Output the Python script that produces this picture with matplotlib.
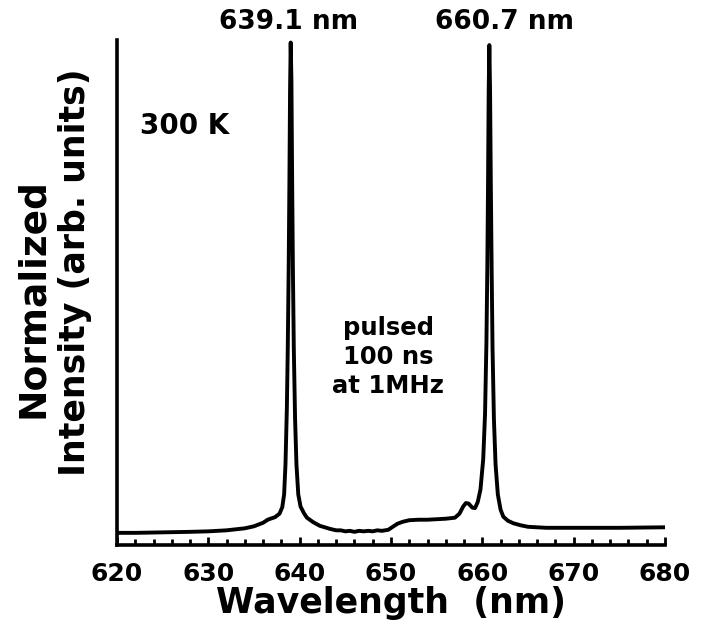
import matplotlib
matplotlib.use("Agg")
import matplotlib.pyplot as plt
from matplotlib.ticker import MultipleLocator

# spectrum (wavelength in nm, normalized intensity)
wavelength = [620.0, 622.0, 625.0, 628.0, 630.0, 632.0, 634.0, 635.0, 636.0, 636.5,
              636.8, 637.3, 637.8, 638.1, 638.3, 638.45, 638.6, 638.7, 638.8, 638.88,
              638.95, 639.02, 639.1, 639.18, 639.26, 639.36, 639.5, 639.65, 639.85, 640.1,
              640.5, 640.8, 641.5, 642.2, 643.3, 644.0, 644.5, 645.0, 645.5, 646.0,
              646.5, 647.0, 647.5, 648.0, 648.5, 649.0, 649.7, 650.2, 650.7, 651.3,
              652.0, 653.0, 654.0, 655.0, 656.0, 657.0, 657.5, 657.9, 658.2, 658.5,
              658.9, 659.2, 659.5, 659.8, 660.1, 660.3, 660.45, 660.55, 660.63, 660.7,
              660.77, 660.85, 660.93, 661.02, 661.12, 661.27, 661.45, 661.7, 662.0, 662.3,
              662.8, 663.4, 664.2, 665.0, 667.0, 670.0, 675.0, 680.0]
intensity = [0.024, 0.024, 0.025, 0.026, 0.027, 0.029, 0.033, 0.037, 0.044, 0.050,
             0.052, 0.055, 0.062, 0.075, 0.100, 0.160, 0.270, 0.390, 0.550, 0.720,
             0.900, 0.995, 0.920, 0.720, 0.550, 0.390, 0.250, 0.160, 0.100, 0.076,
             0.062, 0.054, 0.045, 0.038, 0.032, 0.029, 0.029, 0.027, 0.028, 0.026,
             0.028, 0.027, 0.028, 0.027, 0.029, 0.028, 0.030, 0.036, 0.042, 0.046,
             0.049, 0.050, 0.050, 0.051, 0.052, 0.054, 0.062, 0.076, 0.083, 0.082,
             0.074, 0.073, 0.085, 0.110, 0.170, 0.260, 0.400, 0.550, 0.720, 0.900,
             0.990, 0.900, 0.720, 0.550, 0.390, 0.250, 0.160, 0.100, 0.070, 0.056,
             0.048, 0.043, 0.039, 0.036, 0.034, 0.034, 0.034, 0.035]

peak_labels = ["639.1 nm", "660.7 nm"]
peak_label_x = [638.8, 662.4]
xticks = [620, 630, 640, 650, 660, 670, 680]

plt.rcParams['font.family'] = ['DejaVu Sans']
plt.rcParams['font.weight'] = 'bold'

fig = plt.figure(figsize=(7.03, 6.32), dpi=100)
ax = fig.add_axes([0.1664, 0.1377, 0.7795, 0.799])

ax.plot(wavelength, intensity, color='black', lw=2.8, solid_joinstyle='round')

ax.set_xlim(620, 680)
ax.set_ylim(0, 1.0)
ax.set_xticks(xticks)
ax.xaxis.set_minor_locator(MultipleLocator(2))
ax.set_yticks([])
for s in ['top', 'right']:
    ax.spines[s].set_visible(False)
for s in ['left', 'bottom']:
    ax.spines[s].set_linewidth(2.6)
ax.tick_params(axis='x', which='major', direction='in', length=6, width=2,
               labelsize=18, pad=12)
ax.tick_params(axis='x', which='minor', direction='in', length=4, width=2)
ax.set_xlabel("Wavelength  (nm)", fontsize=25, fontweight='bold', labelpad=0)

for lab, xp in zip(peak_labels, peak_label_x):
    ax.text(xp, 1.036, lab, fontsize=19, fontweight='bold', ha='center', va='center',
            clip_on=False)

ax.text(627.45, 0.829, "300 K", fontsize=20, fontweight='bold', ha='center', va='center')
ax.text(649.7, 0.372, "pulsed\n100 ns\nat 1MHz", fontsize=17.5, fontweight='bold',
        ha='center', va='center', linespacing=1.25)

fig.text(33 / 703, 1 - 298 / 632, "Normalized", rotation=90, fontsize=27,
         fontweight='bold', ha='center', va='center')
fig.text(75 / 703, 1 - 272 / 632, "Intensity (arb. units)", rotation=90, fontsize=25,
         fontweight='bold', ha='center', va='center')

fig.savefig("out.png", dpi=100, facecolor='white')
